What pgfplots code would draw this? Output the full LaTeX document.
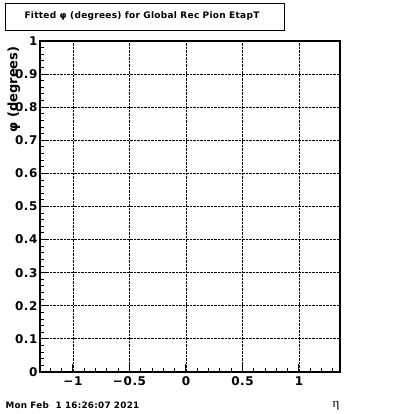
\documentclass[border=0pt]{standalone}
\usepackage{fontspec}
\setmainfont{DejaVu Sans}
\newfontfamily\serifgr{Liberation Serif}
\newfontfamily\tickfont{DejaVu Sans}[LetterSpace=5,BoldFont={DejaVu Sans Bold}]
\newfontfamily\titlefont{DejaVu Sans}[LetterSpace=3,BoldFont={DejaVu Sans Bold}]
\usepackage{pgfplots}
\pgfplotsset{compat=1.18}
\begin{document}
\begin{tikzpicture}[x=1pt,y=1pt]
\path (0,0) rectangle (400,414);
\begin{axis}[
  at={(40pt,42pt)}, anchor=south west,
  scale only axis, width=300pt, height=331pt,
  xmin=-1.292, xmax=1.363, ymin=0, ymax=1,
  axis line style={line width=1.3pt},
  xtick={-1,-0.5,0,0.5,1},
  xticklabels={−1,−0.5,0,0.5,1},
  ytick={0,0.1,0.2,0.3,0.4,0.5,0.6,0.7,0.8,0.9,1},
  yticklabels={0,0.1,0.2,0.3,0.4,0.5,0.6,0.7,0.8,0.9,1},
  minor xtick={-1.2,-1.1,-0.9,-0.8,-0.7,-0.6,-0.4,-0.3,-0.2,-0.1,0.1,0.2,0.3,0.4,0.6,0.7,0.8,0.9,1.1,1.2,1.3},
  minor y tick num=4,
  tick align=inside,
  xtick pos=bottom, ytick pos=left,
  major tick length=7.5pt, minor tick length=3.8pt,
  tick style={line width=1pt, black},
  xmajorgrids, ymajorgrids,
  major grid style={densely dotted, black, line width=0.9pt},
  ticklabel style={font=\tickfont\bfseries\fontsize{12}{12}\selectfont},
  xticklabel style={yshift=-1.5pt},
  yticklabel style={xshift=1pt},
  ylabel={φ (degrees)},
  ylabel style={at={(axis description cs:-0.087,0.994)}, anchor=east, font=\bfseries\fontsize{13}{13}\selectfont},
]
\addplot[draw=none] coordinates {(0,0)};
\end{axis}
\draw[line width=0.9pt, fill=white] (5,384) rectangle (284,411);
\node[font=\titlefont\bfseries\fontsize{9}{9}\selectfont] at (142,397.5) {Fitted φ (degrees) for Global Rec Pion EtapT};
\node[font=\titlefont\bfseries\fontsize{8.8}{8.8}\selectfont, anchor=west] at (2,8.5) {Mon Feb\ \ 1 16:26:07 2021};
\node[font=\serifgr\fontsize{13}{13}\selectfont] at (336,8) {η};
\end{tikzpicture}
\end{document}
